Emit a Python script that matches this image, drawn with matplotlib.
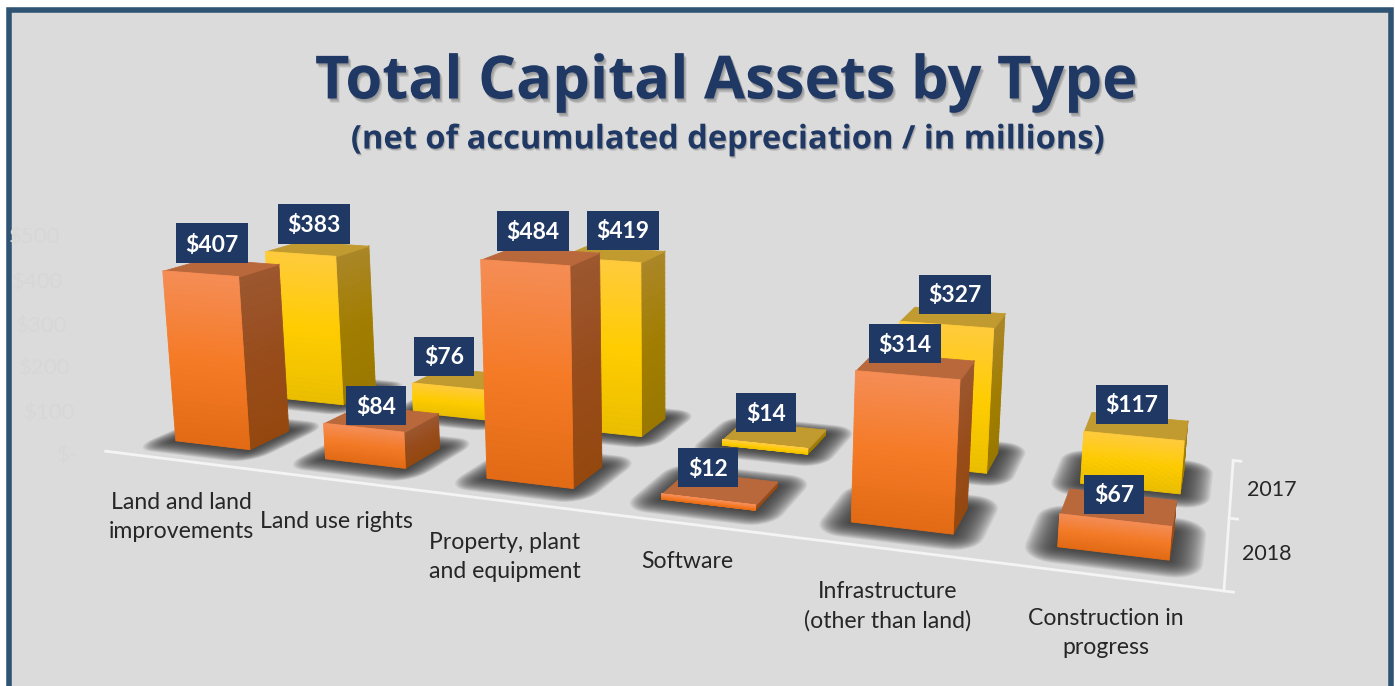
import numpy as np
import matplotlib
matplotlib.use('Agg')
import matplotlib.pyplot as plt
import matplotlib.patheffects as pe
from matplotlib.patches import Rectangle
from mpl_toolkits.mplot3d.art3d import Poly3DCollection

plt.rcParams['font.family'] = ['Lato', 'DejaVu Sans']

# Data
categories = ['Land and land\nimprovements', 'Land use rights', 'Property, plant\nand equipment',
              'Software', 'Infrastructure\n(other than land)', 'Construction in\nprogress']
values_2018 = [407, 84, 484, 12, 314, 67]
values_2017 = [383, 76, 419, 14, 327, 117]
series_names = ['2018', '2017']
y_tick_labels = ['$500', '$400', '$300', '$200', '$100', '$-']

# Text positions in picture pixels
cat_label_xy = [(181, 517), (336, 522), (505, 557), (687, 562), (888, 606), (1106, 633)]
series_label_xy = [(1267, 554), (1272, 490)]
y_tick_xy = [(35, 238), (38, 283), (42, 326), (45, 369), (50, 413), (68, 455)]
label_xy_2018 = [(212, 243), (376, 406), (533, 231), (708, 467), (905, 343), (1114, 494)]
label_xy_2017 = [(314, 224), (444, 356), (623, 230), (766, 412), (955, 294), (1132, 404)]

# Colours: (top, middle, bottom) of the shaded faces
front_2018 = ['#F58D55', '#F57A26', '#E36A14']
side_2018 = ['#9C5730', '#984C1B', '#95480E']
top_2018 = '#B9683C'
front_2017 = ['#FFCB3C', '#FFCC00', '#EABE00']
side_2017 = ['#AB8628', '#A17E00', '#9A7800']
top_2017 = '#C19A30'

W, H = 1395, 686
BAR_W, BAR_D = 0.5044, 0.3933


def px(x, y):
    return x / W, 1 - y / H


def shade(stops, t):
    rgb = np.array([matplotlib.colors.to_rgb(c) for c in stops])
    return [np.interp(t, [0, .5, 1], rgb[:, i]) for i in range(3)]


fig = plt.figure(figsize=(W / 100, H / 100), dpi=100, facecolor='white')

# panel with its thick border, the bottom edge runs off the picture
fig.patches.append(Rectangle(px(8.5, 720), 1382 / W, 709.5 / H, transform=fig.transFigure,
                             facecolor='#DBDBDB', edgecolor='#2F5372', linewidth=4, zorder=-5))

ax = fig.add_axes([81.03 / W, -245.44 / H, 1133.9 / W, 1133.9 / H], projection='3d',
                  computed_zorder=False)
ax.patch.set_visible(False)
ax.set_xlim(0, 6)
ax.set_ylim(0, 2)
ax.set_zlim(0, 500)
ax.view_init(elev=13.713, azim=-69.727, roll=0.071)
ax.set_proj_type('persp', focal_length=0.26)
ax.set_box_aspect((1, 0.3342, 0.2052))
ax.set_axis_off()

z = 1


def add_polys(polys, colors, alpha=None, lw=0.6):
    global z
    col = Poly3DCollection(polys, zorder=z, alpha=alpha)
    col.set_facecolor(colors)
    if alpha is None:
        col.set_edgecolor(colors)
        col.set_linewidth(lw)
    else:
        col.set_edgecolor('none')
    ax.add_collection3d(col, autolim=False)
    col.set_clip_on(False)
    z += 1


def rounded(x0, x1, y0, y1, rx, ry):
    corners = [(x1 - rx, y1 - ry, 0), (x0 + rx, y1 - ry, 90), (x0 + rx, y0 + ry, 180), (x1 - rx, y0 + ry, 270)]
    out = []
    for cx, cy, start in corners:
        for ang in np.radians(np.arange(start, start + 91, 15)):
            out.append((cx + rx * np.cos(ang), cy + ry * np.sin(ang), 0))
    return out


def draw_shadow(i, s):
    x0, x1 = i + .5 - BAR_W / 2, i + .5 + BAR_W / 2
    y0, y1 = s + .5 - BAR_D / 2, s + .5 + BAR_D / 2
    layers = 22
    for k in range(layers):
        t = 1 - k / (layers - 1)
        mx, my = 0.01 + 0.14 * t, 0.02 + 0.2 * t
        add_polys([rounded(x0 - mx, x1 + mx, y0 - my, y1 + my, mx * .95, my * .95)], '#333333', alpha=0.08)


def draw_bar(i, s, v, front, side, top):
    x0, x1 = i + .5 - BAR_W / 2, i + .5 + BAR_W / 2
    y0, y1 = s + .5 - BAR_D / 2, s + .5 + BAR_D / 2
    n = 32
    zs = np.linspace(v, 0, n + 1)
    ts = (np.arange(n) + .5) / n
    add_polys([[(x1, y0, zs[k]), (x1, y1, zs[k]), (x1, y1, zs[k + 1]), (x1, y0, zs[k + 1])] for k in range(n)],
              [shade(side, t) for t in ts])
    add_polys([[(x0, y0, v), (x1, y0, v), (x1, y1, v), (x0, y1, v)]], top)
    add_polys([[(x0, y0, zs[k]), (x1, y0, zs[k]), (x1, y0, zs[k + 1]), (x0, y0, zs[k + 1])] for k in range(n)],
              [shade(front, t) for t in ts])


# floor lines
ax.plot([0, 6, 6], [0, 0, 2], [0, 0, 0], color='#F4F4F4', lw=2, zorder=z, clip_on=False)
z += 1
for tick in (0, 1, 2):
    ax.plot([6, 6.04], [tick, tick], [0, 0], color='#F4F4F4', lw=2, zorder=z, clip_on=False)
    z += 1

for s in (1, 0):
    for i in range(len(categories)):
        draw_shadow(i, s)

for i in range(len(categories)):
    draw_bar(i, 1, values_2017[i], front_2017, side_2017, top_2017)
for i in range(len(categories)):
    draw_bar(i, 0, values_2018[i], front_2018, side_2018, top_2018)

# title and subtitle, soft shadow built from a few faint offset copies
title_fx = [pe.SimplePatchShadow(offset=o, shadow_rgbFace='black', alpha=0.11)
            for o in ((0.8, -1.2), (1.4, -2.2), (2.0, -3.0))] + [pe.Normal()]
sub_fx = [pe.SimplePatchShadow(offset=o, shadow_rgbFace='black', alpha=0.12)
          for o in ((0.5, -0.8), (1.0, -1.5))] + [pe.Normal()]
fig.text(*px(726, 83), 'Total Capital Assets by Type', ha='center', va='center', fontsize=43,
         fontweight='bold', family='Open Sans', color='#1F3864', path_effects=title_fx)
fig.text(*px(728, 140), '(net of accumulated depreciation / in millions)', ha='center', va='center',
         fontsize=23.5, fontweight='bold', family='Open Sans', color='#1F3864', path_effects=sub_fx)

# ghost value axis, almost the colour of the panel
for lab, (x, y) in zip(y_tick_labels, y_tick_xy):
    fig.text(*px(x, y), lab, ha='center', va='center', fontsize=16, color='#D7D7D7')

for lab, (x, y) in zip(categories, cat_label_xy):
    fig.text(*px(x, y), lab, ha='center', va='center', fontsize=16.6, color='#262626', linespacing=1.45)
for lab, (x, y) in zip(series_names, series_label_xy):
    fig.text(*px(x, y), lab, ha='center', va='center', fontsize=15.5, color='#262626')

for vals, xy in ((values_2017, label_xy_2017), (values_2018, label_xy_2018)):
    for v, (x, y) in zip(vals, xy):
        lab = '$%d' % v
        bw = 72 if v >= 100 else 60
        fig.patches.append(Rectangle(px(x - bw / 2, y + 19.5), bw / W, 39 / H, transform=fig.transFigure,
                                     facecolor='#1F3864', edgecolor='none', zorder=4))
        fig.text(*px(x, y + 2), lab, ha='center', va='center', fontsize=16.5, fontweight='bold', color='white',
                 zorder=5)

fig.savefig('out.png', dpi=100)
